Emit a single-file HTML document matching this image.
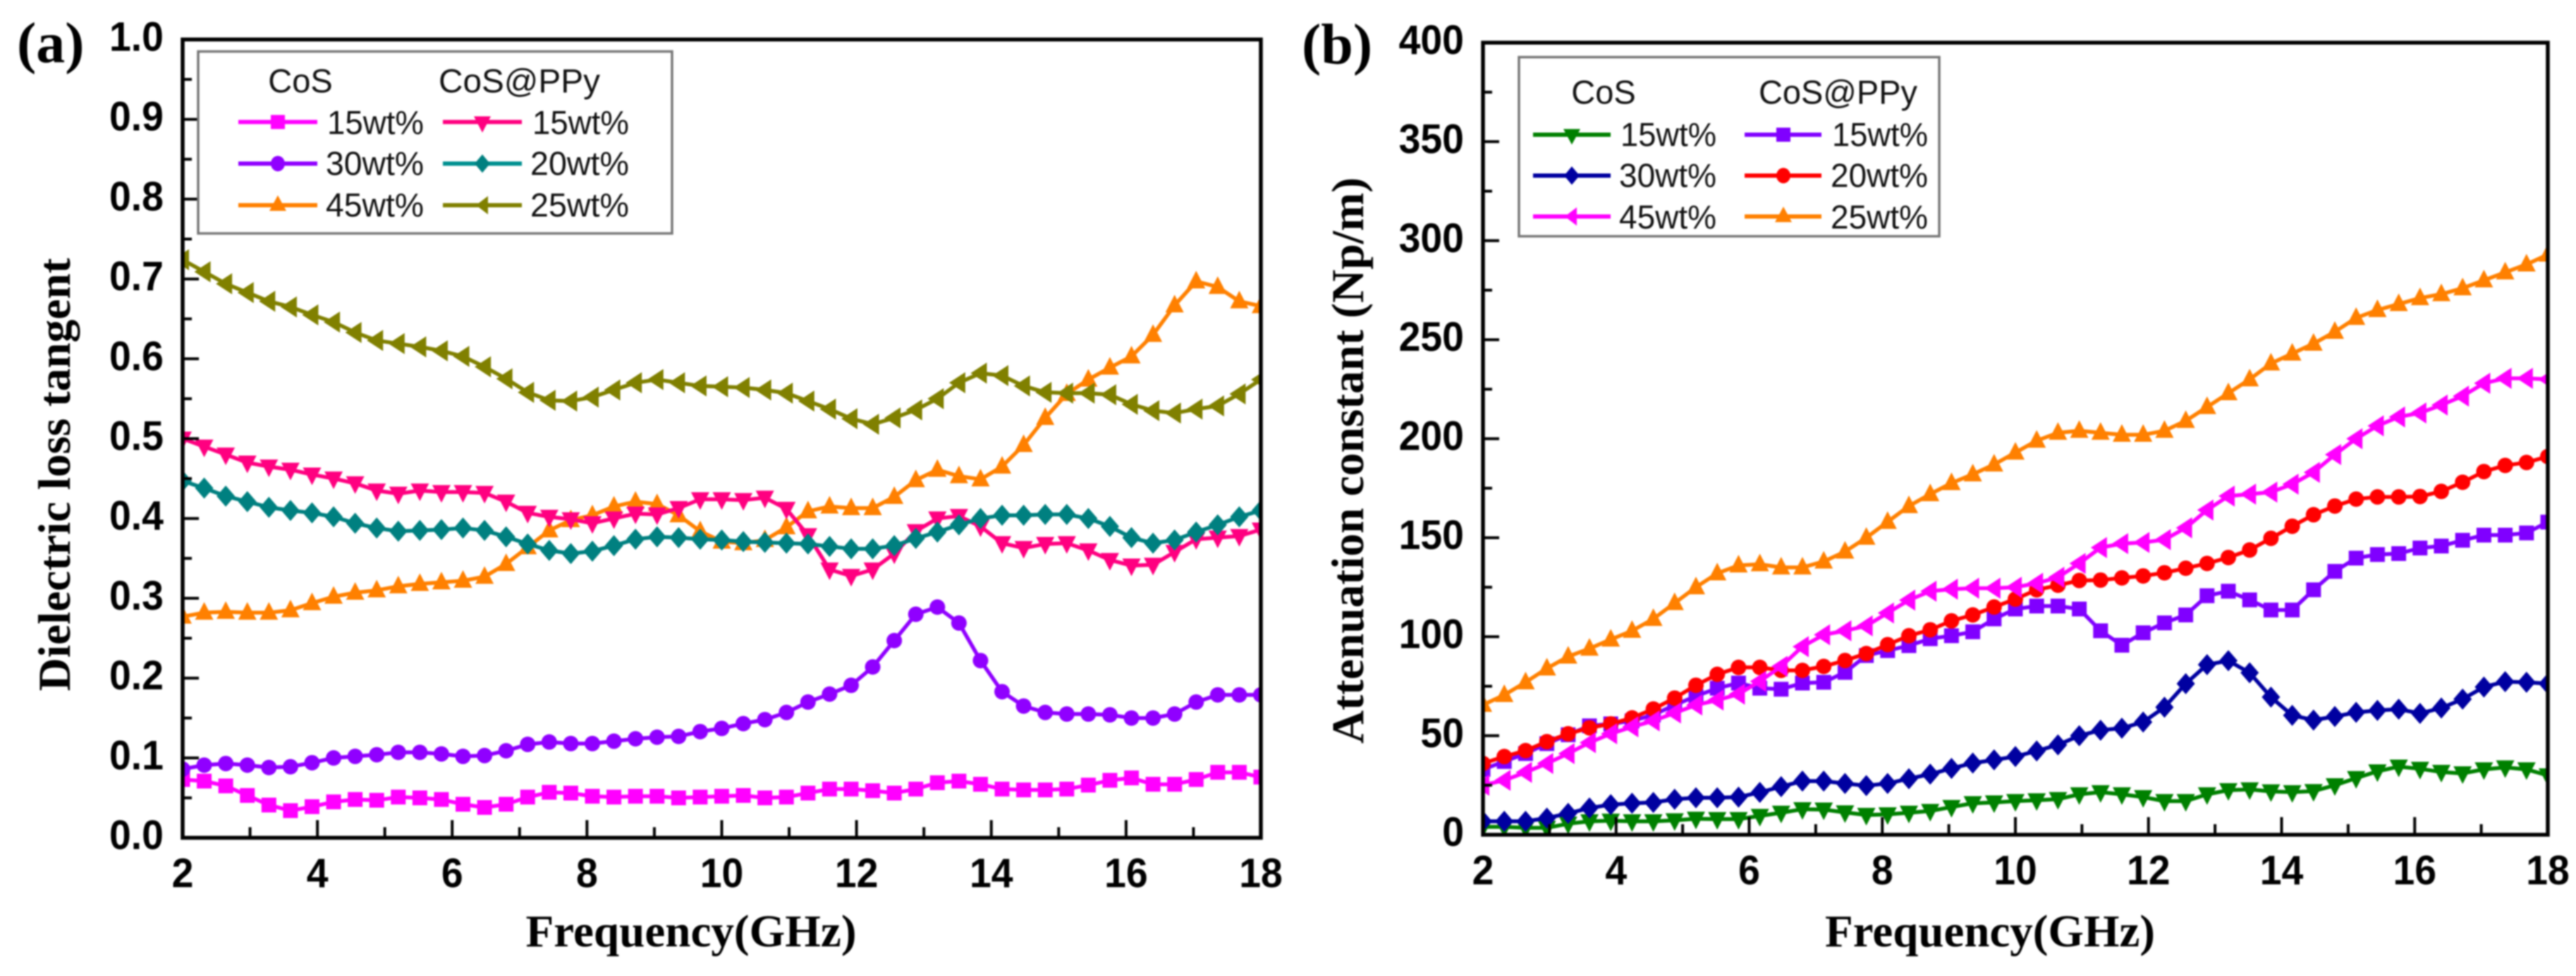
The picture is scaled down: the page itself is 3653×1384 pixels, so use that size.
<!DOCTYPE html>
<html lang="en">
<head>
<meta charset="utf-8">
<title>Dielectric loss tangent and attenuation constant of CoS and CoS@PPy</title>
<style>
html,body{margin:0;padding:0;background:#fff;}
body{width:3653px;height:1384px;overflow:hidden;}
svg{display:block;filter:blur(1.1px);}
.tick{font-family:"Liberation Sans",sans-serif;font-weight:bold;font-size:58px;fill:#000;}
.title{font-family:"Liberation Serif",serif;font-weight:bold;font-size:65px;fill:#000;}
.leg{font-family:"Liberation Sans",sans-serif;font-size:47px;fill:#111;}
.panel{font-family:"Liberation Serif",serif;font-weight:bold;font-size:82px;fill:#000;}
</style>
</head>
<body>
<svg id="figure" xmlns="http://www.w3.org/2000/svg" width="3653" height="1384" viewBox="0 0 3653 1384">
  <defs>
    <clipPath id="clip-a"><rect x="259" y="56" width="1529" height="1132"/></clipPath>
    <clipPath id="clip-b"><rect x="2103" y="60" width="1510" height="1124"/></clipPath>
  </defs>
  <rect x="0" y="0" width="3653" height="1384" fill="#fff"/>

  <text class="panel" x="24" y="88">(a)</text>
  <text class="panel" x="1846" y="90">(b)</text>

  <text class="title" x="980" y="1342" text-anchor="middle" textLength="469" lengthAdjust="spacingAndGlyphs">Frequency(GHz)</text>
  <text class="title" x="2822" y="1342" text-anchor="middle" textLength="468" lengthAdjust="spacingAndGlyphs">Frequency(GHz)</text>
  <text class="title" transform="translate(99,673) rotate(-90)" text-anchor="middle" textLength="614" lengthAdjust="spacingAndGlyphs">Dielectric loss tangent</text>
  <text class="title" transform="translate(1933,653) rotate(-90)" text-anchor="middle" textLength="803" lengthAdjust="spacingAndGlyphs">Attenuation constant (Np/m)</text>

  <g id="plot-a"></g>
  <g id="plot-b"></g>

  <g id="legend-a">
    <rect x="281" y="73" width="672" height="258" fill="#fff" stroke="#777" stroke-width="3.5"/>
    <text class="leg" x="426" y="131" text-anchor="middle">CoS</text>
    <text class="leg" x="622" y="131" textLength="229" lengthAdjust="spacingAndGlyphs">CoS@PPy</text>
    <g>
      <line x1="338" x2="450" y1="173" y2="173" stroke="#ff00ff" stroke-width="6"/>
      <rect x="384" y="163" width="20" height="20" fill="#ff00ff"/>
      <text class="leg" x="464" y="190" textLength="137" lengthAdjust="spacingAndGlyphs">15wt%</text>
    </g>
    <g>
      <line x1="338" x2="450" y1="232" y2="232" stroke="#9000ff" stroke-width="6"/>
      <ellipse cx="394" cy="232" rx="10" ry="11" fill="#9000ff"/>
      <text class="leg" x="462" y="248" textLength="139" lengthAdjust="spacingAndGlyphs">30wt%</text>
    </g>
    <g>
      <line x1="338" x2="450" y1="291" y2="291" stroke="#ff8000" stroke-width="6"/>
      <polygon points="394,277 406,299 382,299" fill="#ff8000"/>
      <text class="leg" x="462" y="307" textLength="139" lengthAdjust="spacingAndGlyphs">45wt%</text>
    </g>
    <g>
      <line x1="628" x2="740" y1="173" y2="173" stroke="#ff0080" stroke-width="6"/>
      <polygon points="672,165 696,165 684,188" fill="#ff0080"/>
      <text class="leg" x="755" y="190" textLength="137" lengthAdjust="spacingAndGlyphs">15wt%</text>
    </g>
    <g>
      <line x1="628" x2="740" y1="232" y2="232" stroke="#009090" stroke-width="6"/>
      <polygon points="684,219 695,232 684,245 673,232" fill="#008080"/>
      <text class="leg" x="752" y="248" textLength="140" lengthAdjust="spacingAndGlyphs">20wt%</text>
    </g>
    <g>
      <line x1="628" x2="740" y1="291" y2="291" stroke="#808000" stroke-width="6"/>
      <polygon points="675,291 692,278 692,304" fill="#808000"/>
      <text class="leg" x="752" y="307" textLength="140" lengthAdjust="spacingAndGlyphs">25wt%</text>
    </g>
  </g>

  <g id="legend-b">
    <rect x="2154" y="81" width="596" height="254" fill="#fff" stroke="#777" stroke-width="3.5"/>
    <text class="leg" x="2274" y="147" text-anchor="middle">CoS</text>
    <text class="leg" x="2494" y="147" textLength="225" lengthAdjust="spacingAndGlyphs">CoS@PPy</text>
    <g>
      <line x1="2174" x2="2284" y1="191" y2="191" stroke="#008000" stroke-width="6"/>
      <polygon points="2217,183 2241,183 2229,205" fill="#008000"/>
      <text class="leg" x="2298" y="207" textLength="136" lengthAdjust="spacingAndGlyphs">15wt%</text>
    </g>
    <g>
      <line x1="2174" x2="2284" y1="249" y2="249" stroke="#0000a0" stroke-width="6"/>
      <polygon points="2229,236 2240,249 2229,262 2218,249" fill="#0000a0"/>
      <text class="leg" x="2296" y="265" textLength="138" lengthAdjust="spacingAndGlyphs">30wt%</text>
    </g>
    <g>
      <line x1="2174" x2="2284" y1="307" y2="307" stroke="#ff00ff" stroke-width="6"/>
      <polygon points="2219,307 2236,294 2236,320" fill="#ff00ff"/>
      <text class="leg" x="2296" y="324" textLength="138" lengthAdjust="spacingAndGlyphs">45wt%</text>
    </g>
    <g>
      <line x1="2474" x2="2583" y1="191" y2="191" stroke="#8000ff" stroke-width="6"/>
      <rect x="2519" y="181" width="20" height="20" fill="#8000ff"/>
      <text class="leg" x="2598" y="207" textLength="136" lengthAdjust="spacingAndGlyphs">15wt%</text>
    </g>
    <g>
      <line x1="2474" x2="2583" y1="249" y2="249" stroke="#ff0000" stroke-width="6"/>
      <ellipse cx="2529" cy="249" rx="10" ry="11" fill="#ff0000"/>
      <text class="leg" x="2596" y="265" textLength="138" lengthAdjust="spacingAndGlyphs">20wt%</text>
    </g>
    <g>
      <line x1="2474" x2="2583" y1="307" y2="307" stroke="#ff8000" stroke-width="6"/>
      <polygon points="2529,293 2541,315 2517,315" fill="#ff8000"/>
      <text class="leg" x="2596" y="324" textLength="138" lengthAdjust="spacingAndGlyphs">25wt%</text>
    </g>
  </g>
</svg>

<script>
const frequency = [2,2.32,2.64,2.96,3.28,3.6,3.92,4.24,4.56,4.88,5.2,5.52,5.84,6.16,6.48,6.8,7.12,7.44,7.76,8.08,8.4,8.72,9.04,9.36,9.68,10,10.32,10.64,10.96,11.28,11.6,11.92,12.24,12.56,12.88,13.2,13.52,13.84,14.16,14.48,14.8,15.12,15.44,15.76,16.08,16.4,16.72,17.04,17.36,17.68,18];

const xTickLabels = ["2","4","6","8","10","12","14","16","18"];
const xTickValues = [2,4,6,8,10,12,14,16,18];
const xMinorValues = [3,5,7,9,11,13,15,17];
const yTickLabelsA = ["0.0","0.1","0.2","0.3","0.4","0.5","0.6","0.7","0.8","0.9","1.0"];
const yTickValuesA = [0,0.1,0.2,0.3,0.4,0.5,0.6,0.7,0.8,0.9,1];
const yMinorValuesA = [0.05,0.15,0.25,0.35,0.45,0.55,0.65,0.75,0.85,0.95];
const yTickLabelsB = ["0","50","100","150","200","250","300","350","400"];
const yTickValuesB = [0,50,100,150,200,250,300,350,400];
const yMinorValuesB = [25,75,125,175,225,275,325,375];

/* Panel (a): dielectric loss tangent */
const lossCoS15 = [.073,.071,.065,.053,.041,.034,.039,.045,.048,.047,.051,.050,.048,.042,.038,.042,.051,.057,.056,.052,.051,.052,.052,.050,.051,.052,.053,.050,.051,.056,.061,.061,.059,.056,.061,.069,.071,.067,.061,.060,.060,.061,.066,.072,.075,.067,.067,.073,.082,.082,.076];
const lossCoS30 = [.086,.091,.093,.091,.088,.089,.094,.100,.102,.104,.107,.107,.105,.102,.103,.109,.117,.120,.118,.118,.121,.124,.126,.127,.133,.137,.143,.148,.157,.170,.180,.191,.214,.247,.280,.289,.269,.222,.183,.165,.157,.155,.155,.154,.150,.150,.155,.170,.179,.179,.179];
const lossCoS45 = [.277,.282,.283,.282,.282,.285,.294,.302,.307,.310,.315,.318,.320,.322,.327,.343,.364,.385,.398,.404,.415,.421,.418,.404,.384,.371,.369,.373,.389,.409,.415,.413,.413,.427,.448,.461,.453,.449,.465,.492,.526,.556,.574,.589,.603,.630,.667,.697,.690,.672,.666];
const lossPPy15 = [.500,.490,.480,.470,.465,.461,.455,.450,.444,.435,.431,.435,.433,.433,.432,.421,.407,.402,.399,.394,.400,.406,.405,.413,.424,.424,.423,.426,.412,.379,.336,.328,.336,.356,.384,.400,.403,.390,.369,.363,.368,.369,.360,.348,.341,.342,.358,.374,.376,.378,.386];
const lossPPy20 = [.447,.438,.428,.421,.414,.410,.407,.402,.394,.388,.384,.385,.386,.388,.385,.377,.368,.360,.356,.359,.366,.374,.377,.376,.374,.373,.371,.370,.369,.368,.365,.362,.362,.366,.375,.383,.392,.400,.404,.404,.405,.405,.400,.390,.376,.369,.373,.383,.392,.402,.410];
const lossPPy25 = [.724,.709,.694,.683,.672,.665,.655,.646,.633,.623,.619,.615,.610,.603,.590,.575,.558,.548,.547,.552,.561,.570,.574,.570,.566,.565,.564,.561,.557,.547,.537,.525,.518,.526,.536,.550,.570,.582,.579,.566,.558,.557,.557,.555,.543,.535,.532,.537,.541,.556,.574];

/* Panel (b): attenuation constant */
const attenCoS15 = [4,4,3.5,3.5,5.6,6.8,7.1,6.8,6.8,7.3,8.1,7.9,7.9,9.5,11.1,12.9,12.7,11.3,10,10.3,11.1,12,14,15.9,16.3,17,17.4,18,20.4,21.5,20.4,19,17,17,20.4,22.5,22.9,21.9,21.5,22,25,28.6,32,34.4,33.3,31.7,31,33,34,33,30];
const attenCoS30 = [6.8,6.8,6.8,8.4,10.8,13.5,15.2,15.9,16.3,17.9,18.7,18.7,19,21.4,24.3,27.1,27.1,25.9,24.8,25.9,28.3,30.6,33.5,36.2,37.8,39.5,42.3,45.4,50,52.8,53.8,56.9,64.4,76.3,85.9,87.9,81.8,69.5,60.3,57.9,59.7,61.8,62.8,63.4,61.3,64,68.5,74.6,77.3,77,76.3];
const attenCoS45 = [25,27.5,31.5,36,41,46.5,51,54.5,57.5,61.5,65.5,68,71,77.5,85,95,101,103,105.5,112,118.5,123,124,124.5,124.5,125,127,130,137,145,147,147.6,149,155,164,171,172,173,177,183,192,200,206.5,211,213,217,221.5,228,230.5,230.5,230];
const attenPPy15 = [33,37,41,46,50.5,55,56,57.5,60.5,65.5,70,74,76.6,74,73.5,76.6,77,82,90.5,93,95.5,99,100.5,102.5,109,114,115.5,115.5,114,103,95.7,102,107,111,120.7,123,118.6,113.5,113.5,123.7,133,139.7,141.5,142,144.8,145.8,148.7,151.3,151.3,152.4,157.9];
const attenPPy20 = [36,39.5,42.5,47,51,54,56,59,63.5,69,75.5,81,84.5,84.5,83,83,85,88,91.5,96,100.5,103.5,108,111,115,119,123.7,126,128.4,128.6,129.7,130.7,132.3,134.6,137,140,143.8,149.7,155.8,161.6,166,169.5,170.6,170.6,170.8,173.4,178,183.4,186.5,188,191];
const attenPPy25 = [65.6,70.6,77,84,90,94,98.6,103,109,117,125,132,136,136.6,135,135,138,143,150,158,166,172,177.6,182,187,193,199,203,204,203,202,202,204,209,216,223,230,238,243,248,254,261,265,268,271,273,276,280,284,288,293];

const SVG_NS = 'http://www.w3.org/2000/svg';

function scaleLinear(d0, d1, r0, r1) {
  return function (v) { return r0 + (v - d0) * (r1 - r0) / (d1 - d0); };
}

function make(tag, attrs, parent) {
  const el = document.createElementNS(SVG_NS, tag);
  Object.keys(attrs).forEach(function (k) { el.setAttribute(k, attrs[k]); });
  parent.appendChild(el);
  return el;
}

function markerAt(kind, cx, cy, color, parent) {
  let el;
  if (kind === 'square') {
    el = make('rect', { x: cx - 10.5, y: cy - 10.5, width: 21, height: 21, fill: color }, parent);
  } else if (kind === 'circle') {
    el = make('circle', { cx: cx, cy: cy, r: 11, fill: color }, parent);
  } else {
    let pts;
    if (kind === 'diamond') pts = [[cx, cy - 15], [cx + 13, cy], [cx, cy + 15], [cx - 13, cy]];
    if (kind === 'up') pts = [[cx, cy - 15], [cx + 13, cy + 10], [cx - 13, cy + 10]];
    if (kind === 'down') pts = [[cx - 13, cy - 10], [cx + 13, cy - 10], [cx, cy + 15]];
    if (kind === 'left') pts = [[cx - 14, cy], [cx + 9, cy - 15], [cx + 9, cy + 15]];
    el = make('polygon', { points: pts.map(function (p) { return p.join(','); }).join(' '), fill: color }, parent);
  }
  return el;
}

function drawSeries(root, clipId, x, y, name, values, color, kind) {
  const g = make('g', { 'clip-path': 'url(#' + clipId + ')' }, root);
  
  
  const d = values.map(function (v, i) {
    return (i ? 'L' : 'M') + x(frequency[i]).toFixed(1) + ' ' + y(v).toFixed(1);
  }).join(' ');
  const line = make('path', { d: d, fill: 'none', stroke: color, 'stroke-width': 5.5, 'stroke-linejoin': 'round' }, g);
  
  
  values.forEach(function (v, i) {
    const m = markerAt(kind, x(frequency[i]), y(v), color, g);
    
    
  });
}

function condense(label) {
  label.setAttribute('textLength', (label.getComputedTextLength() * 0.955).toFixed(1));
  label.setAttribute('lengthAdjust', 'spacingAndGlyphs');
}

function drawAxes(root, box, x, y, yVals, yLabels, yMinor, xLabelY) {
  const frame = make('rect', { x: box.l, y: box.t, width: box.r - box.l, height: box.b - box.t, fill: 'none', stroke: '#000', 'stroke-width': 5.5 }, root);
  
  

  xTickValues.forEach(function (v, i) {
    const t = make('line', { x1: x(v), x2: x(v), y1: box.b, y2: box.b - 25, stroke: '#000', 'stroke-width': 4 }, root);
    
    
    const lab = make('text', { x: x(v), y: xLabelY, 'text-anchor': 'middle', class: 'tick' }, root);
    lab.textContent = xTickLabels[i];
    
    
    condense(lab);
  });
  xMinorValues.forEach(function (v) {
    const t = make('line', { x1: x(v), x2: x(v), y1: box.b, y2: box.b - 15, stroke: '#000', 'stroke-width': 4 }, root);
    
    
  });
  yVals.forEach(function (v, i) {
    const t = make('line', { x1: box.l, x2: box.l + 23, y1: y(v), y2: y(v), stroke: '#000', 'stroke-width': 4 }, root);
    
    
    const lab = make('text', { x: box.l - 27, y: y(v) + 16, 'text-anchor': 'end', class: 'tick' }, root);
    lab.textContent = yLabels[i];
    
    
    condense(lab);
  });
  yMinor.forEach(function (v) {
    const t = make('line', { x1: box.l, x2: box.l + 13, y1: y(v), y2: y(v), stroke: '#000', 'stroke-width': 4 }, root);
    
    
  });
}

const boxA = { l: 259, r: 1788, t: 56, b: 1188 };
const boxB = { l: 2103, r: 3613, t: 60.5, b: 1183.7 };
const xA = scaleLinear(2, 18, boxA.l, boxA.r);
const yA = scaleLinear(0, 1, boxA.b, boxA.t);
const xB = scaleLinear(2, 18, boxB.l, boxB.r);
const yB = scaleLinear(0, 400, boxB.b, boxB.t);
const plotA = document.getElementById('plot-a');
const plotB = document.getElementById('plot-b');

drawSeries(plotA, 'clip-a', xA, yA, 'cos-15wt', lossCoS15, '#ff00ff', 'square');
drawSeries(plotA, 'clip-a', xA, yA, 'cos-30wt', lossCoS30, '#9000ff', 'circle');
drawSeries(plotA, 'clip-a', xA, yA, 'cos-45wt', lossCoS45, '#ff8000', 'up');
drawSeries(plotA, 'clip-a', xA, yA, 'cos-ppy-15wt', lossPPy15, '#ff0080', 'down');
drawSeries(plotA, 'clip-a', xA, yA, 'cos-ppy-20wt', lossPPy20, '#008080', 'diamond');
drawSeries(plotA, 'clip-a', xA, yA, 'cos-ppy-25wt', lossPPy25, '#808000', 'left');
drawAxes(plotA, boxA, xA, yA, yTickValuesA, yTickLabelsA, yMinorValuesA, 1258);

drawSeries(plotB, 'clip-b', xB, yB, 'cos-15wt', attenCoS15, '#008000', 'down');
drawSeries(plotB, 'clip-b', xB, yB, 'cos-30wt', attenCoS30, '#0000a0', 'diamond');
drawSeries(plotB, 'clip-b', xB, yB, 'cos-ppy-15wt', attenPPy15, '#8000ff', 'square');
drawSeries(plotB, 'clip-b', xB, yB, 'cos-ppy-20wt', attenPPy20, '#ff0000', 'circle');
drawSeries(plotB, 'clip-b', xB, yB, 'cos-45wt', attenCoS45, '#ff00ff', 'left');
drawSeries(plotB, 'clip-b', xB, yB, 'cos-ppy-25wt', attenPPy25, '#ff8000', 'up');
drawAxes(plotB, boxB, xB, yB, yTickValuesB, yTickLabelsB, yMinorValuesB, 1254);
</script>
</body>
</html>
